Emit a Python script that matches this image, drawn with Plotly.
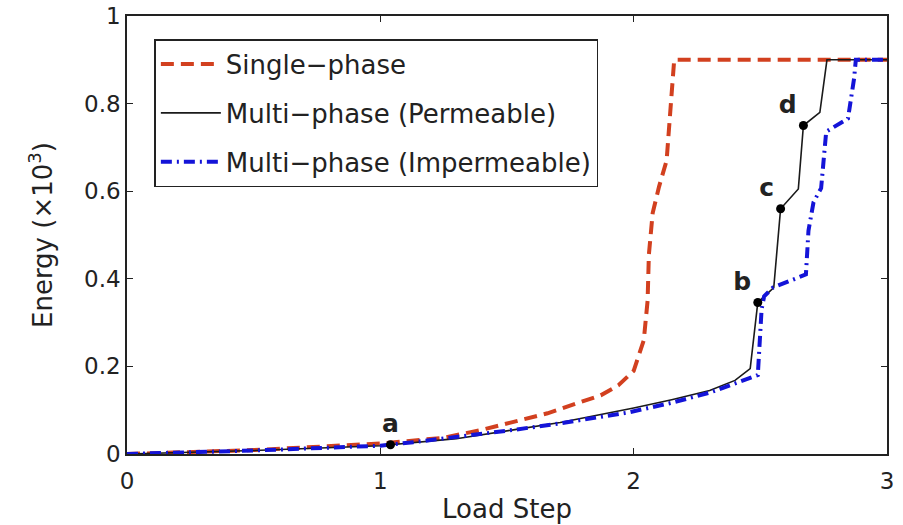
import plotly.graph_objects as go

# Single-phase model
step_single = [0, 0.5, 1.0, 1.25, 1.4, 1.66, 1.87, 1.94, 2.0, 2.04, 2.055, 2.06,
               2.075, 2.10, 2.13, 2.14, 2.155, 2.16, 3.0]
energy_single = [0, 0.009, 0.024, 0.037, 0.055, 0.093, 0.134, 0.157, 0.19, 0.26,
                 0.35, 0.455, 0.55, 0.61, 0.67, 0.75, 0.866, 0.90, 0.90]

# Multi-phase, permeable
step_perm = [0, 0.5, 1.0, 1.04, 1.3, 1.525, 1.71, 1.85, 2.0, 2.15, 2.3, 2.4,
             2.46, 2.49, 2.553, 2.58, 2.65, 2.67, 2.735, 2.763, 3.0]
energy_perm = [0, 0.008, 0.019, 0.021, 0.035, 0.055, 0.072, 0.088, 0.105, 0.124,
               0.145, 0.168, 0.195, 0.346, 0.38, 0.56, 0.605, 0.75, 0.78, 0.90,
               0.90]

# Multi-phase, impermeable
step_imperm = [0, 0.5, 1.0, 1.13, 1.525, 1.71, 1.98, 2.15, 2.3, 2.4, 2.49,
               2.505, 2.515, 2.55, 2.68, 2.69, 2.71, 2.74, 2.75, 2.76, 2.846,
               2.87, 2.877, 3.0]
energy_imperm = [0, 0.008, 0.019, 0.027, 0.055, 0.07, 0.095, 0.117, 0.14, 0.16,
                 0.18, 0.33, 0.36, 0.38, 0.41, 0.51, 0.575, 0.607, 0.675, 0.736,
                 0.766, 0.857, 0.90, 0.90]

# Labelled states on the permeable curve
state_labels = ["a", "b", "c", "d"]
state_step = [1.04, 2.49, 2.58, 2.67]
state_energy = [0.021, 0.346, 0.56, 0.75]
state_textpos = ["top center", "top left", "top left", "top left"]

FONT = "DejaVu Sans, Liberation Sans, Arial, sans-serif"
INK = "#222222"

fig = go.Figure()
fig.add_trace(go.Scatter(
    x=step_single, y=energy_single, mode="lines", name="Single\u2212phase",
    legendgroup="single",
    line=dict(color="#d2401f", width=4, dash="13px,7px"),
))
fig.add_trace(go.Scatter(
    x=step_perm, y=energy_perm, mode="lines", name="Multi\u2212phase (Permeable)",
    legendgroup="perm",
    line=dict(color="#1a1a1a", width=1.6),
))
fig.add_trace(go.Scatter(
    x=step_imperm, y=energy_imperm, mode="lines",
    name="Multi\u2212phase (Impermeable)", legendgroup="imperm",
    line=dict(color="#1414d8", width=4, dash="11px,5px,2px,5px"),
))
fig.add_trace(go.Scatter(
    x=state_step, y=state_energy, mode="markers+text", text=state_labels,
    textposition=state_textpos, showlegend=False,
    marker=dict(color="black", size=9),
    texttemplate="<b>%{text}</b>",
    textfont=dict(family=FONT, size=25, color=INK),
))

axis_common = dict(
    showline=True, linecolor=INK, linewidth=1.5, mirror="ticks",
    ticks="inside", ticklen=6, tickcolor=INK, tickwidth=1.2,
    showgrid=False, zeroline=False, automargin=False,
    tickfont=dict(family=FONT, size=23, color=INK),
)

fig.update_layout(
    width=903, height=525,
    margin=dict(l=127, r=16, t=16, b=71, autoexpand=False),
    paper_bgcolor="white", plot_bgcolor="white",
    font=dict(family=FONT, size=23, color=INK),
    showlegend=True,
    legend=dict(
        x=0.036, y=0.947, xanchor="left", yanchor="top",
        bordercolor=INK, borderwidth=1.5, bgcolor="white",
        font=dict(family=FONT, size=26, color=INK),
        traceorder="grouped", tracegroupgap=12, itemwidth=60,
    ),
    xaxis=dict(
        range=[0, 3], tickvals=[0, 1, 2, 3], ticktext=["0", "1", "2", "3"],
        ticklabelstandoff=6,
        title=dict(text="Load Step", standoff=6,
                   font=dict(family=FONT, size=26, color=INK)),
        **axis_common,
    ),
    yaxis=dict(
        range=[0, 1], tickvals=[0, 0.2, 0.4, 0.6, 0.8, 1],
        ticktext=["0", "0.2", "0.4", "0.6", "0.8", "1"],
        title=dict(text="Energy (\u00d710<sup>3</sup>)", standoff=24,
                   font=dict(family=FONT, size=26, color=INK)),
        **axis_common,
    ),
)

fig.write_html("out.html")
